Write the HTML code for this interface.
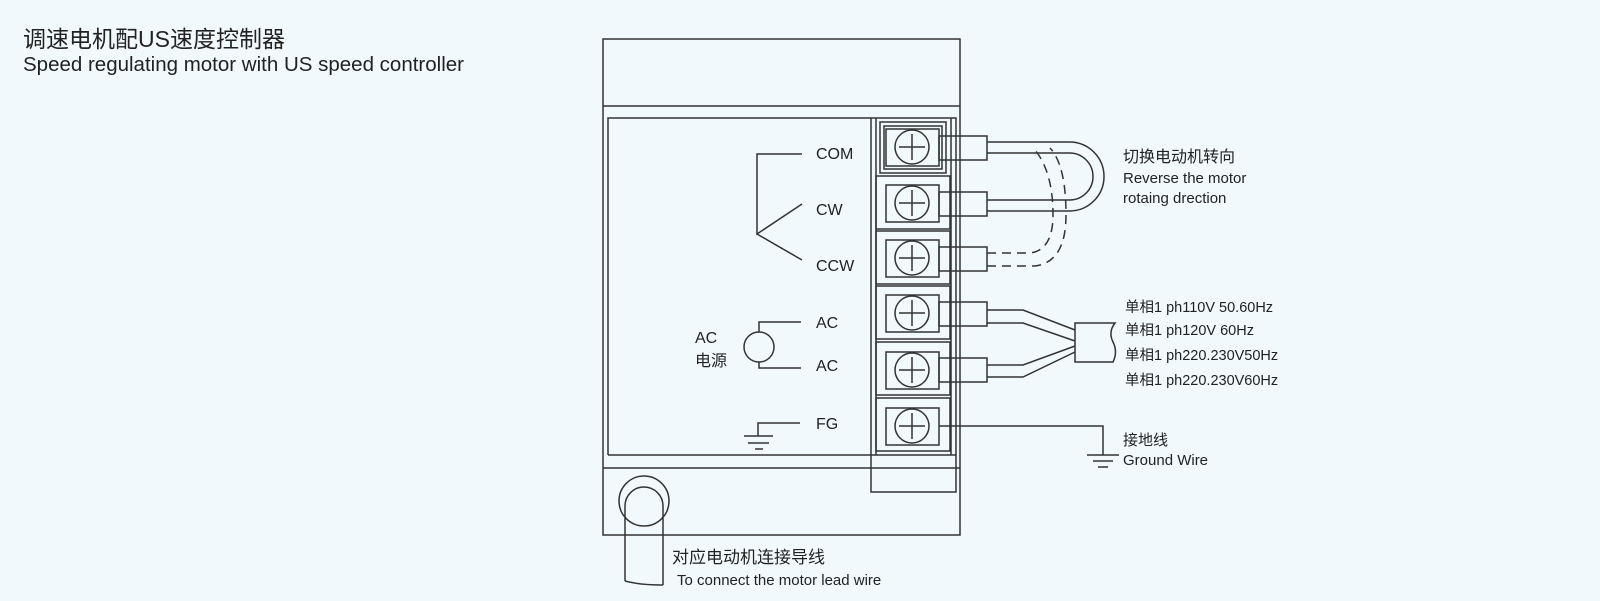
<!DOCTYPE html>
<html><head><meta charset="utf-8"><style>
html,body{margin:0;padding:0;background:#f1f9fd;}
svg{display:block}
text{font-family:"Liberation Sans","Noto Sans CJK SC",sans-serif;fill:#222}
</style></head><body>
<svg width="1600" height="601" viewBox="0 0 1600 601" xmlns="http://www.w3.org/2000/svg">
<rect width="1600" height="601" fill="#f1f9fd"/>
<text x="23" y="47" font-size="23">调速电机配US速度控制器</text>
<text x="23" y="71" font-size="20.5">Speed regulating motor with US speed controller</text>
<g fill="none" stroke="#333" stroke-width="1.5">
<rect x="603" y="39" width="357" height="496"/>
<line x1="603" y1="106" x2="960" y2="106"/>
<line x1="603" y1="468" x2="960" y2="468"/>
<polyline points="608,455 608,118 871,118"/>
<line x1="608" y1="455" x2="871" y2="455"/>
<rect x="871" y="118" width="85" height="374"/>
<line x1="876" y1="118" x2="876" y2="455"/>
<line x1="951" y1="118" x2="951" y2="455"/>
<line x1="871" y1="455" x2="956" y2="455"/>
<rect x="880" y="122" width="66" height="51"/>
<rect x="884" y="126" width="58" height="43"/>
<g>
<rect x="876" y="176" width="74" height="53"/>
<rect x="876" y="231" width="74" height="53"/>
<rect x="876" y="286" width="74" height="53"/>
<rect x="876" y="342" width="74" height="53"/>
<rect x="876" y="398" width="74" height="53"/>
</g>
<g>
<rect x="886" y="129" width="53" height="37"/><circle cx="912" cy="147" r="17"/><path d="M899,147h26M912,134v26"/>
<rect x="886" y="185" width="53" height="37"/><circle cx="912" cy="203" r="17"/><path d="M899,203h26M912,190v26"/>
<rect x="886" y="240" width="53" height="37"/><circle cx="912" cy="258" r="17"/><path d="M899,258h26M912,245v26"/>
<rect x="886" y="295" width="53" height="37"/><circle cx="912" cy="313" r="17"/><path d="M899,313h26M912,300v26"/>
<rect x="886" y="352" width="53" height="37"/><circle cx="912" cy="370" r="17"/><path d="M899,370h26M912,357v26"/>
<rect x="886" y="408" width="53" height="37"/><circle cx="912" cy="426" r="17"/><path d="M899,426h26M912,413v26"/>
</g>
<rect x="939" y="136" width="48" height="24"/>
<rect x="939" y="192" width="48" height="24"/>
<rect x="939" y="247" width="48" height="24"/>
<rect x="939" y="302" width="48" height="24"/>
<rect x="939" y="358" width="48" height="24"/>
<path d="M987,142H1069.5A34.5,34.5 0 0 1 1069.5,211H987"/>
<path d="M987,153H1069.5A23.5,23.5 0 0 1 1069.5,200H987"/>
<path stroke-dasharray="9,6" d="M987,253H1030Q1053,250 1053,215Q1053,172 1035,150"/>
<path stroke-dasharray="9,6" d="M987,266H1035Q1066,262 1066,215Q1066,165 1050,148"/>
<path d="M987,310H1023L1075,330M987,323H1023L1075,341M987,365H1023L1075,346M987,377H1023L1075,352"/>
<path d="M1075,323H1115Q1108,332 1113,342Q1118,352 1113,362H1075Z"/>
<path d="M939,426H1103V455M1087,455h32M1093,461h20M1098,467h10"/>
<path d="M802,154H757V234L802,204M757,234L802,260"/>
<circle cx="759" cy="347" r="15"/>
<path d="M759,332V322H801M759,362V368H801"/>
<path d="M800,423H758V436M744,436h29M748,443h21M755,449h8"/>
<circle cx="644" cy="501" r="25"/>
<path d="M625,581V506A19,19 0 0 1 663,506V585"/>
<path d="M625,581Q640,585 663,585"/>
</g>
<g font-size="16">
<text x="816" y="159">COM</text>
<text x="816" y="215">CW</text>
<text x="816" y="271">CCW</text>
<text x="816" y="328">AC</text>
<text x="816" y="371">AC</text>
<text x="816" y="429">FG</text>
<text x="695" y="343">AC</text>
<text x="695" y="366">电源</text>
</g>
<text x="1123" y="162" font-size="16">切换电动机转向</text>
<text x="1123" y="183" font-size="15">Reverse the motor</text>
<text x="1123" y="203" font-size="15">rotaing drection</text>
<g font-size="14.5">
<text x="1125" y="312">单相1 ph110V 50.60Hz</text>
<text x="1125" y="335">单相1 ph120V 60Hz</text>
<text x="1125" y="360">单相1 ph220.230V50Hz</text>
<text x="1125" y="385">单相1 ph220.230V60Hz</text>
</g>
<text x="1123" y="445" font-size="15">接地线</text>
<text x="1123" y="465" font-size="15">Ground Wire</text>
<text x="672" y="563" font-size="17">对应电动机连接导线</text>
<text x="677" y="585" font-size="15">To connect the motor lead wire</text>
</svg>
</body></html>
